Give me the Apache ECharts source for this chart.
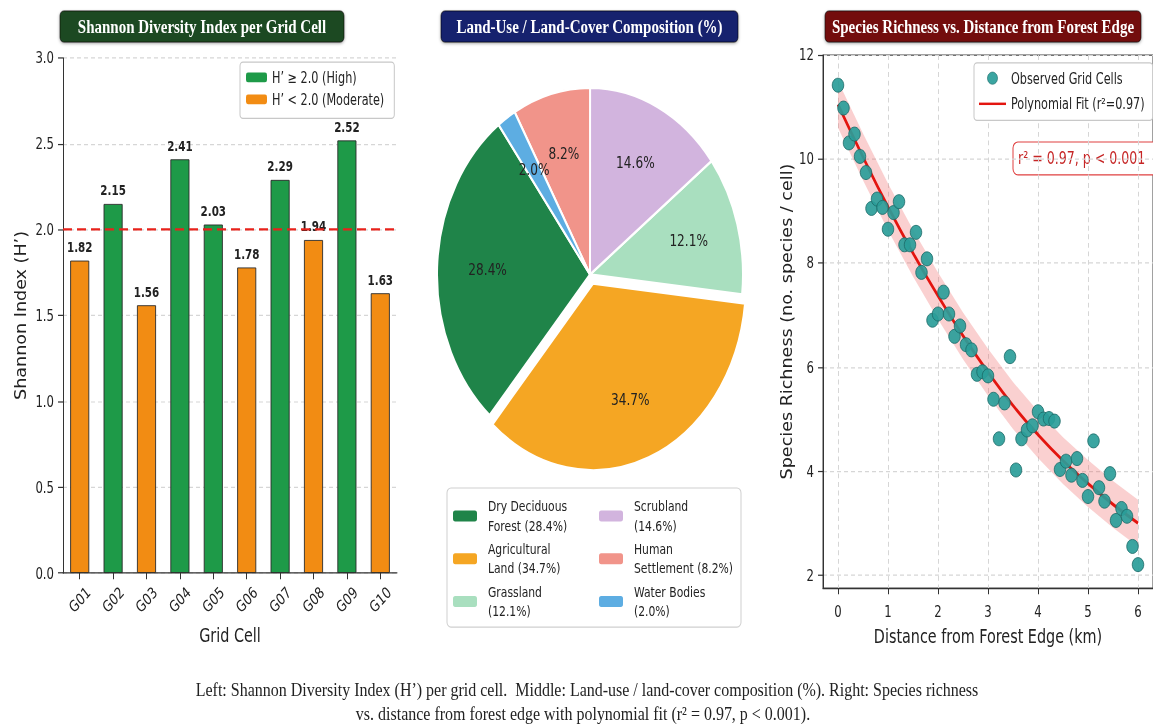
<!DOCTYPE html>
<html>
<head>
<meta charset="utf-8">
<script src="https://cdn.jsdelivr.net/npm/echarts@6/dist/echarts.min.js"></script>
<style>
  html, body { margin: 0; padding: 0; background: #fff; }
  #frame { position: relative; width: 1153px; height: 726px; overflow: hidden; background: #fff; }
  /* the figure is laid out on a shorter canvas and stretched vertically */
  #chart { position: absolute; left: 0; top: 0; width: 1153px; height: 595px; transform: scaleY(1.22); transform-origin: 0 0; }
</style>
</head>
<body>
<div id="frame"><div id="chart"></div></div>
<script>
// ---------- data ----------
const gridCells = ['G01', 'G02', 'G03', 'G04', 'G05', 'G06', 'G07', 'G08', 'G09', 'G10'];
const shannonH = [1.82, 2.15, 1.56, 2.41, 2.03, 1.78, 2.29, 1.94, 2.52, 1.63];
const highThreshold = 2.0;

const landUseNames = ['Dry Deciduous Forest', 'Agricultural Land', 'Grassland', 'Scrubland', 'Human Settlement', 'Water Bodies'];
const landUseShares = [28.4, 34.7, 12.1, 14.6, 8.2, 2.0];
const landUseLegendLines = [['Dry Deciduous', 'Forest'], ['Agricultural', 'Land'], ['Grassland', ''], ['Scrubland', ''], ['Human', 'Settlement'], ['Water Bodies', '']];

const distanceKm = [0.00, 0.11, 0.22, 0.33, 0.44, 0.56, 0.67, 0.78, 0.89, 1.00, 1.11, 1.22, 1.33, 1.44, 1.56, 1.67, 1.78, 1.89, 2.00,
  2.11, 2.22, 2.33, 2.44, 2.56, 2.67, 2.78, 2.89, 3.00, 3.11, 3.22, 3.33, 3.44, 3.56, 3.67, 3.78, 3.89, 4.00, 4.11, 4.22, 4.33,
  4.44, 4.56, 4.67, 4.78, 4.89, 5.00, 5.11, 5.22, 5.33, 5.44, 5.56, 5.67, 5.78, 5.89, 6.00];
const richness = [11.42, 10.98, 10.31, 10.48, 10.05, 9.74, 9.05, 9.23, 9.07, 8.65, 8.97, 9.18, 8.35, 8.35, 8.59, 7.82, 8.08, 6.90, 7.02,
  7.44, 7.02, 6.59, 6.79, 6.43, 6.33, 5.86, 5.91, 5.83, 5.38, 4.62, 5.31, 6.20, 4.02, 4.62, 4.79, 4.87, 5.14, 5.00, 5.01, 4.96,
  4.03, 4.19, 3.92, 4.24, 3.82, 3.51, 4.58, 3.68, 3.42, 3.95, 3.05, 3.28, 3.13, 2.55, 2.20];

const fitDistance = [0, 0.5, 1, 1.5, 2, 2.5, 3, 3.5, 4, 4.5, 5, 5.5, 6];
const fitRichness = [11.05, 10.04, 9.08, 8.19, 7.37, 6.60, 5.90, 5.26, 4.70, 4.20, 3.76, 3.36, 3.00];
const bandUpper = [11.50, 10.49, 9.53, 8.64, 7.82, 7.05, 6.35, 5.71, 5.15, 4.65, 4.21, 3.81, 3.45];
const bandLower = [10.60, 9.59, 8.63, 7.74, 6.92, 6.15, 5.45, 4.81, 4.25, 3.75, 3.31, 2.91, 2.55];

const distanceTicks = [0, 1, 2, 3, 4, 5, 6];
const richnessTicks = [2, 4, 6, 8, 10, 12];

// ---------- styling ----------
const SANS = "'DejaVu Sans Condensed', 'DejaVu Sans', sans-serif";
const SERIF = "'Liberation Serif', 'DejaVu Serif', serif";
const INK = '#222';
const highName = 'H\u2019 \u2265 2.0 (High)';
const modName = 'H\u2019 < 2.0 (Moderate)';
const obsName = 'Observed Grid Cells';
const fitName = 'Polynomial Fit (r\u00b2=0.97)';
const landUseColors = ['#1f8449', '#f5a623', '#a9dfbf', '#d2b4de', '#f1948a', '#5dade2'];
const explodedSlice = 'Agricultural Land';
const pieCenter = [590, 225];
const pieRadius = 153;

const highVals = shannonH.map(v => (v >= highThreshold ? v : null));
const modVals = shannonH.map(v => (v < highThreshold ? v : null));
const legendLabel = name => {
  const i = landUseNames.indexOf(name);
  const [a, b] = landUseLegendLines[i];
  return a + '\n' + (b ? b + ' ' : '') + '(' + landUseShares[i].toFixed(1) + '%)';
};

const gridLine = { show: true, lineStyle: { color: '#d6d6d6', type: [4, 3], width: 1 } };
const axisLine = { show: true, onZero: false, lineStyle: { color: '#333', width: 1 } };
const axisTick = { show: true, length: 5, lineStyle: { color: '#333' } };
const tickFont = { fontSize: 13, color: INK, fontFamily: SANS };
const nameFont = { fontSize: 16, color: INK, fontFamily: SANS };

function titleBox(x, w, fill, text) {
  return {
    type: 'group', z: 10,
    children: [
      { type: 'rect', shape: { x: x, y: 9, width: w, height: 25.5, r: 4 },
        style: { fill: fill, stroke: 'rgba(0,0,0,0.55)', lineWidth: 1, shadowBlur: 3, shadowColor: 'rgba(0,0,0,0.35)', shadowOffsetY: 1 } },
      { type: 'text', style: { x: x + w / 2, y: 22, text: text, fill: '#fff', fontSize: 15, fontWeight: 'bold', fontFamily: SERIF, align: 'center', verticalAlign: 'middle' } }
    ]
  };
}

const chart = echarts.init(document.getElementById('chart'), null, { renderer: 'svg' });

chart.setOption({
  backgroundColor: '#fff',
  animation: false,
  textStyle: { fontFamily: SANS },
  grid: [
    { left: 63, top: 47.5, width: 334, height: 422.2 },
    { left: 823, top: 45.1, width: 335.5, height: 436.9, show: true, borderColor: '#444', borderWidth: 1, backgroundColor: 'transparent' }
  ],
  xAxis: [
    { gridIndex: 0, type: 'category', data: gridCells,
      name: 'Grid Cell', nameLocation: 'middle', nameGap: 43, nameTextStyle: nameFont,
      axisLine: axisLine, axisTick: Object.assign({ alignWithLabel: true }, axisTick),
      axisLabel: Object.assign({ rotate: 43, align: 'center', verticalAlign: 'middle', margin: 22, interval: 0 }, tickFont),
      splitLine: { show: false } },
    { gridIndex: 1, type: 'value', min: -0.3, max: 6.3,
      name: 'Distance from Forest Edge (km)', nameLocation: 'middle', nameGap: 29, nameTextStyle: nameFont,
      axisLine: axisLine, axisTick: Object.assign({ customValues: distanceTicks }, axisTick),
      axisLabel: Object.assign({ customValues: distanceTicks, margin: 13 }, tickFont),
      splitLine: gridLine }
  ],
  yAxis: [
    { gridIndex: 0, type: 'value', min: 0, max: 3, interval: 0.5,
      name: 'Shannon Index (H\u2019)', nameLocation: 'middle', nameGap: 35, nameTextStyle: nameFont,
      axisLine: axisLine, axisTick: axisTick,
      axisLabel: Object.assign({ formatter: v => v.toFixed(1), margin: 9 }, tickFont),
      splitLine: gridLine },
    { gridIndex: 1, type: 'value', min: 1.75, max: 12,
      name: 'Species Richness (no. species / cell)', nameLocation: 'middle', nameGap: 29, nameTextStyle: nameFont,
      axisLine: axisLine, axisTick: Object.assign({ customValues: richnessTicks }, axisTick),
      axisLabel: Object.assign({ customValues: richnessTicks, margin: 9 }, tickFont),
      splitLine: gridLine }
  ],
  legend: [
    { data: [highName, modName], selectedMode: false, left: 240, top: 51, orient: 'vertical',
      itemWidth: 21, itemHeight: 8, itemGap: 5, padding: [6, 10, 9, 6],
      backgroundColor: '#fff', borderColor: '#c8c8c8', borderWidth: 1, borderRadius: 3,
      itemStyle: { borderWidth: 0 }, textStyle: { fontSize: 12.5, color: INK, fontFamily: SANS } },
    { data: landUseNames.slice(0, 3), selectedMode: false, left: 453, top: 407, orient: 'vertical',
      itemWidth: 24, itemHeight: 9, itemGap: 3, padding: 0, formatter: legendLabel,
      itemStyle: { borderWidth: 0 }, textStyle: { fontSize: 12, lineHeight: 16, color: INK, fontFamily: SANS, padding: [0, 0, 0, 6] } },
    { data: landUseNames.slice(3), selectedMode: false, left: 599, top: 407, orient: 'vertical',
      itemWidth: 24, itemHeight: 9, itemGap: 3, padding: 0, formatter: legendLabel,
      itemStyle: { borderWidth: 0 }, textStyle: { fontSize: 12, lineHeight: 16, color: INK, fontFamily: SANS, padding: [0, 0, 0, 6] } },
    { data: [{ name: obsName, icon: 'circle', itemStyle: { borderWidth: 0.6 } }, { name: fitName, itemStyle: { opacity: 0 } }],
      selectedMode: false, left: 974, top: 51.6, orient: 'vertical',
      itemWidth: 27, itemHeight: 10, itemGap: 8, padding: [6, 8, 7, 4],
      backgroundColor: '#fff', borderColor: '#c8c8c8', borderWidth: 1, borderRadius: 3,
      textStyle: { fontSize: 12.5, color: INK, fontFamily: SANS } }
  ],
  series: [
    { name: highName, type: 'bar', xAxisIndex: 0, yAxisIndex: 0, data: highVals, barWidth: 19, barGap: '-100%',
      itemStyle: { color: '#1e9a48', borderColor: '#2a2a2a', borderWidth: 0.8 },
      label: { show: true, position: 'top', distance: 5, formatter: p => (p.value == null ? '' : p.value.toFixed(2)),
        fontWeight: 'bold', fontSize: 11.5, color: INK, fontFamily: SANS },
      markLine: { silent: true, symbol: 'none', label: { show: false },
        lineStyle: { color: '#e8221b', width: 2, type: [9, 5] }, data: [{ yAxis: highThreshold }] } },
    { name: modName, type: 'bar', xAxisIndex: 0, yAxisIndex: 0, data: modVals, barWidth: 19, barGap: '-100%',
      itemStyle: { color: '#f28c13', borderColor: '#2a2a2a', borderWidth: 0.8 },
      label: { show: true, position: 'top', distance: 5, formatter: p => (p.value == null ? '' : p.value.toFixed(2)),
        fontWeight: 'bold', fontSize: 11.5, color: INK, fontFamily: SANS } },
    { type: 'pie', center: pieCenter, radius: pieRadius, startAngle: 126.7, clockwise: false,
      selectedMode: 'single', selectedOffset: 8, silent: true,
      data: landUseNames.map((n, i) => ({ name: n, value: landUseShares[i], selected: n === explodedSlice, itemStyle: { color: landUseColors[i] } })),
      itemStyle: { borderColor: '#fff', borderWidth: 2 },
      select: { itemStyle: { borderColor: '#fff', borderWidth: 2 } },
      emphasis: { disabled: true }, label: { show: false }, labelLine: { show: false } },
    // percentage labels, placed at about two thirds of the radius
    { type: 'pie', center: pieCenter, radius: pieRadius * 1.3, startAngle: 126.7, clockwise: false,
      selectedMode: 'single', selectedOffset: 8, silent: true, z: 3,
      data: landUseNames.map((n, i) => ({ name: n, value: landUseShares[i], selected: n === explodedSlice })),
      itemStyle: { color: 'rgba(0,0,0,0)', borderWidth: 0 },
      select: { itemStyle: { color: 'rgba(0,0,0,0)', borderWidth: 0 } },
      emphasis: { disabled: true }, labelLine: { show: false }, labelLayout: { hideOverlap: false },
      label: { show: true, position: 'inside', formatter: p => p.value.toFixed(1) + '%', fontSize: 13.5, color: INK, fontFamily: SANS } },
    { type: 'custom', xAxisIndex: 1, yAxisIndex: 1, data: [[0, 0]], silent: true, z: 1, clip: true,
      renderItem: (params, api) => {
        const pts = fitDistance.map((x, i) => api.coord([x, bandUpper[i]]));
        for (let i = fitDistance.length - 1; i >= 0; i--) pts.push(api.coord([fitDistance[i], bandLower[i]]));
        return { type: 'polygon', shape: { points: pts }, style: { fill: 'rgba(240,100,100,0.3)' } };
      } },
    { name: fitName, type: 'line', xAxisIndex: 1, yAxisIndex: 1, smooth: true, symbol: 'none', z: 2,
      data: fitDistance.map((x, i) => [x, fitRichness[i]]),
      lineStyle: { color: '#e3150f', width: 2.6 }, itemStyle: { color: '#e3150f' } },
    { name: obsName, type: 'scatter', xAxisIndex: 1, yAxisIndex: 1, symbolSize: 11.5, z: 3,
      data: distanceKm.map((x, i) => [x, richness[i]]),
      itemStyle: { color: '#2a9d99', opacity: 0.92, borderColor: '#1c6b68', borderWidth: 0.8 } }
  ],
  graphic: [
    titleBox(60, 284, '#1e4a22', 'Shannon Diversity Index per Grid Cell'),
    titleBox(441, 297, '#16226e', 'Land-Use / Land-Cover Composition (%)'),
    titleBox(825, 316, '#730c0c', 'Species Richness vs. Distance from Forest Edge'),
    { type: 'rect', z: 0, shape: { x: 447, y: 400, width: 294, height: 114, r: 4 },
      style: { fill: '#fff', stroke: '#cfcfcf', lineWidth: 1 } },
    { type: 'group', z: 10, children: [
      { type: 'rect', shape: { x: 1013, y: 116.4, width: 150, height: 27, r: 5 },
        style: { fill: '#fff', stroke: '#e04040', lineWidth: 1 } },
      { type: 'text', style: { x: 1018, y: 130, text: 'r\u00b2 = 0.97, p < 0.001', fill: '#c62626', fontSize: 14, fontFamily: SANS, verticalAlign: 'middle' } }
    ] },
    { type: 'text', z: 10, style: { x: 587, y: 565, align: 'center', verticalAlign: 'middle', fill: INK, fontSize: 16, fontFamily: SERIF,
      text: 'Left: Shannon Diversity Index (H\u2019) per grid cell.  Middle: Land-use / land-cover composition (%). Right: Species richness' } },
    { type: 'text', z: 10, style: { x: 583, y: 584.5, align: 'center', verticalAlign: 'middle', fill: INK, fontSize: 16, fontFamily: SERIF,
      text: 'vs. distance from forest edge with polynomial fit (r\u00b2 = 0.97, p < 0.001).' } }
  ]
});
</script>
</body>
</html>
